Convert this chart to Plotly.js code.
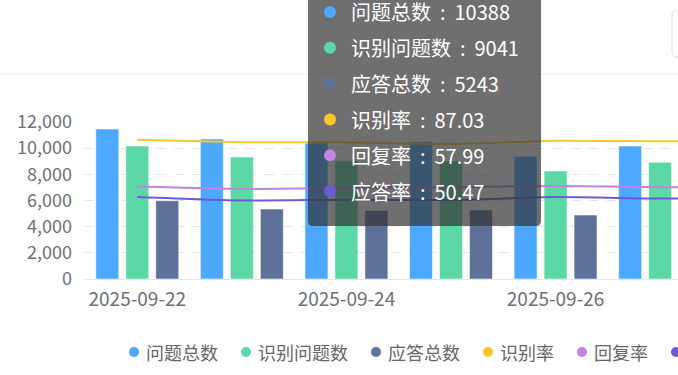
<!DOCTYPE html>
<html>
<head>
<meta charset="utf-8">
<script src="https://cdn.plot.ly/plotly-3.0.1.min.js"></script>
<style>
  html, body { margin: 0; padding: 0; background: #ffffff; overflow: hidden; width: 678px; height: 375px; }
  #chart { width: 870px; height: 375px; }
</style>
</head>
<body>
<div id="chart"></div>
<script>
// ---- data ----
const dates = ['2025-09-22', '2025-09-23', '2025-09-24', '2025-09-25', '2025-09-26', '2025-09-27', '2025-09-28'];
const totalQuestions = [11465, 10700, 10388, 10494, 9378, 10166, 10500];
const recognizedQuestions = [10166, 9325, 9041, 9019, 8255, 8920, 9200];
const answeredTotal = [5985, 5350, 5243, 5274, 4892, 5210, 5400];
const recognitionRate = [88.67, 87.15, 87.03, 85.94, 88.03, 87.74, 87.62];
const replyRate = [58.87, 57.37, 57.99, 58.48, 59.26, 58.41, 58.70];
const answerRate = [52.20, 50.00, 50.47, 50.26, 52.16, 51.25, 51.43];
const seriesNames = ['问题总数', '识别问题数', '应答总数', '识别率', '回复率', '应答率'];
const yTickVals = [0, 2000, 4000, 6000, 8000, 10000, 12000];
const hoverIndex = 2;

// ---- style ----
const colors = ['#4da8ff', '#5cd8a6', '#5e7299', '#fbc52c', '#c382e4', '#6d5ad6'];
const FONT = '"Noto Sans CJK SC", "Noto Sans", sans-serif';
const W = 870, H = 375;
const M = { l: 85, r: 53, t: 122, b: 96 };
const PW = W - M.l - M.r, PH = H - M.t - M.b;
const px = x => (x - M.l) / PW;
const py = y => (H - M.b - y) / PH;
function roundRect(x0, y0, x1, y1, r) {
  const p = (x, y) => px(x).toFixed(5) + ',' + py(y).toFixed(5);
  return 'M' + p(x0 + r, y0) + ' L' + p(x1 - r, y0) + ' Q' + p(x1, y0) + ' ' + p(x1, y0 + r) +
    ' L' + p(x1, y1 - r) + ' Q' + p(x1, y1) + ' ' + p(x1 - r, y1) +
    ' L' + p(x0 + r, y1) + ' Q' + p(x0, y1) + ' ' + p(x0, y1 - r) +
    ' L' + p(x0, y0 + r) + ' Q' + p(x0, y0) + ' ' + p(x0 + r, y0) + ' Z';
}
function dot(cx, cy, r, color) {
  return {
    type: 'circle', xref: 'paper', yref: 'paper', xsizemode: 'pixel', ysizemode: 'pixel',
    xanchor: px(cx), yanchor: py(cy), x0: -r, x1: r, y0: -r, y1: r,
    fillcolor: color, line: { width: 0 }, layer: 'above'
  };
}

const barSeries = [totalQuestions, recognizedQuestions, answeredTotal];
const lineSeries = [recognitionRate, replyRate, answerRate];
const traces = [];
barSeries.forEach((vals, i) => {
  traces.push({
    type: 'bar', x: dates, y: vals, name: seriesNames[i], showlegend: false,
    marker: { color: colors[i], line: { color: 'rgba(255,255,255,0.55)', width: 1 } },
    hoverinfo: 'skip'
  });
});
lineSeries.forEach((vals, i) => {
  traces.push({
    type: 'scatter', mode: 'lines', x: dates, y: vals, yaxis: 'y2', name: seriesNames[i + 3], showlegend: false,
    line: { color: colors[i + 3], width: 2, shape: 'spline', smoothing: 0.6 },
    hoverinfo: 'skip'
  });
});

const shapes = [
  { type: 'line', xref: 'paper', yref: 'paper', x0: px(0), x1: px(W), y0: py(74), y1: py(74),
    line: { color: '#ececec', width: 1 }, layer: 'below' },
  { type: 'path', xref: 'paper', yref: 'paper', path: roundRect(672, 10, 730, 57, 5),
    line: { color: '#dcdfe6', width: 1 }, fillcolor: 'rgba(0,0,0,0)', layer: 'below' },
  { type: 'path', xref: 'paper', yref: 'paper', path: roundRect(308, -12, 541, 226, 5),
    line: { width: 0 }, fillcolor: 'rgba(50,50,50,0.7)', layer: 'above' }
];
const annotations = [];

// ---- tooltip (hovered date) ----
const hoverVals = [
  String(totalQuestions[hoverIndex]), String(recognizedQuestions[hoverIndex]), String(answeredTotal[hoverIndex]),
  recognitionRate[hoverIndex].toFixed(2), replyRate[hoverIndex].toFixed(2), answerRate[hoverIndex].toFixed(2)
];
const SEP = '\u00a0\u00a0:\u00a0\u00a0';
seriesNames.forEach((n, i) => {
  const rowY = 12 + i * 35.8;
  shapes.push(dot(330, rowY, 6, colors[i]));
  annotations.push({
    xref: 'paper', yref: 'paper', x: px(349), y: py(rowY), xanchor: 'left', yanchor: 'middle',
    text: n + SEP + hoverVals[i], showarrow: false,
    font: { family: FONT, size: 20, color: '#ffffff' }
  });
});

// ---- legend (circle icons + labels) ----
const LEG_Y = 352, LEG_FONT = 18;
let legX = 134;
seriesNames.forEach((n, i) => {
  shapes.push(dot(legX, LEG_Y, 5, colors[i]));
  annotations.push({
    xref: 'paper', yref: 'paper', x: px(legX + 10), y: py(LEG_Y), xanchor: 'left', yanchor: 'middle',
    text: n, showarrow: false, font: { family: FONT, size: LEG_FONT, color: '#666666' }
  });
  legX += 12 + n.length * LEG_FONT + 28;
});

const layout = {
  width: W, height: H,
  margin: M,
  paper_bgcolor: '#ffffff', plot_bgcolor: '#ffffff',
  font: { family: FONT, color: '#6e7079', size: 18 },
  barmode: 'group', bargap: 0.14, bargroupgap: 0.233,
  hovermode: false,
  showlegend: false,
  xaxis: {
    type: 'category', categoryorder: 'array', categoryarray: dates,
    tickmode: 'array', tickvals: dates.filter((d, i) => i % 2 === 0),
    showgrid: false, showline: true, linecolor: '#e0e6f1', linewidth: 1, ticks: '',
    tickfont: { family: FONT, size: 19, color: '#6e7079' }, ticklabelstandoff: 3,
    fixedrange: true
  },
  yaxis: {
    range: [0, 12000], tickmode: 'array', tickvals: yTickVals, tickformat: ',d',
    showgrid: true, gridcolor: '#e0e6f1', griddash: 'dash', gridwidth: 1,
    zeroline: false, showline: false, ticks: '',
    tickfont: { family: FONT, size: 18, color: '#6e7079' }, ticklabelstandoff: 12,
    fixedrange: true
  },
  yaxis2: { overlaying: 'y', range: [0, 100], visible: false, fixedrange: true },
  shapes: shapes,
  annotations: annotations
};

Plotly.newPlot('chart', traces, layout, { displayModeBar: false, staticPlot: true });
</script>
</body>
</html>
